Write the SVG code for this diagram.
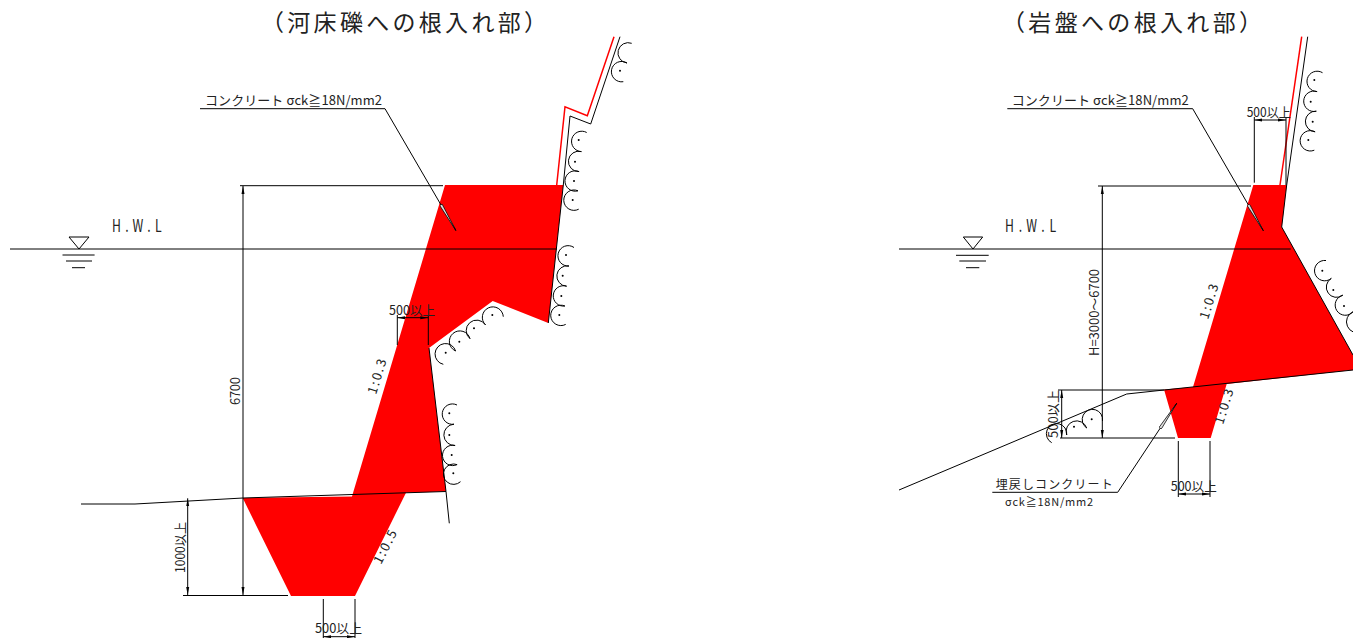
<svg xmlns="http://www.w3.org/2000/svg" width="1353" height="638" viewBox="0 0 1353 638">
<style>
text{font-family:"Noto Sans CJK JP","Liberation Sans",sans-serif;fill:#222}
.t{font-size:23px}
.d{font-size:13px}
.h{font-size:17px}
.l{fill:none;stroke:#000;stroke-width:1}
.r{fill:none;stroke:#f00;stroke-width:1.5}
.s{fill:none;stroke:#000;stroke-width:1}
.f{fill:#f00;stroke:none}
.a{fill:none;stroke:#000;stroke-width:1;marker-start:url(#ar);marker-end:url(#ar)}
.p{fill:#000}
</style>
<defs>
<marker id="ar" viewBox="0 0 8 4" refX="8" refY="2" markerWidth="8" markerHeight="4" markerUnits="userSpaceOnUse" orient="auto-start-reverse"><path d="M0,0.5L8,2L0,3.5Z" fill="#000"/></marker>
<marker id="lead" viewBox="0 0 30 4" refX="30" refY="2" markerWidth="30" markerHeight="4" markerUnits="userSpaceOnUse" orient="auto"><path d="M0,0.6L30,2L0,3.4Z" fill="#ddd" stroke="#000" stroke-width=".7"/></marker>
</defs>
<g id="left-section">
<text class="t" x="261" y="31" textLength="286" lengthAdjust="spacing">（河床礫への根入れ部）</text>
<path class="f" d="M445,185H563.3L548.3,323L492.7,301L429,348L446,491.5L406,492.7L355,596H291L242.7,498L352,496.5L352.7,494Z"/>
<path class="r" d="M556.7,185L565,106.7L587.3,115.7L614,36.7"/>
<path class="l" d="M620,36.7L590.7,124L570,116L563.3,185L548.3,323M429,348L446,491.5L449.3,523.3M81,504H135L243,498L446,491.5"/>
<path class="l" d="M10,249H557M240,185.7H443M183,595.5H288"/>
<path class="l" d="M69,237H89L79,249Z M62.5,255H94.6M66,261H92M72,267.7H85"/>
<text class="h" transform="translate(112,232) scale(.72,1)" textLength="69" lengthAdjust="spacing">H.W.L</text>
<text class="d" x="205" y="105" textLength="177" lengthAdjust="spacing">コンクリート σck≧18N/mm2</text>
<path class="l" d="M200,108.7H385L456,230.7" marker-end="url(#lead)"/>
<path class="a" d="M243,186V595"/>
<text class="d" transform="translate(240,405) rotate(-90)" textLength="28" lengthAdjust="spacing">6700</text>
<path class="a" d="M187.7,498.3V595"/>
<text class="d" transform="translate(185,573) rotate(-90)" textLength="51" lengthAdjust="spacingAndGlyphs">1000以上</text>
<path class="l" d="M397.3,315V345M428.3,315V345"/>
<path class="a" d="M397.3,317.7H428.3"/>
<text class="d" x="389" y="315" textLength="46" lengthAdjust="spacingAndGlyphs">500以上</text>
<path class="l" d="M323.3,599V638M355,599V638"/>
<path class="a" d="M323.3,636.7H355"/>
<text class="d" x="315" y="633" textLength="47" lengthAdjust="spacingAndGlyphs">500以上</text>
<text class="d" transform="translate(376,395) rotate(-73)" textLength="36" lengthAdjust="spacing">1:0.3</text>
<text class="d" transform="translate(381,565) rotate(-63)" textLength="36" lengthAdjust="spacing">1:0.5</text>
<g id="left-gravel">
<path class="s" d="M631.7,43.3A10.2,10.2 0 1 0 627,63A10.2,10.2 0 1 0 623.3,81.7"/>
<path class="s" d="M586.7,132.5A10.2,10.2 0 1 0 581.4,151.6A10.2,10.2 0 1 0 579.1,171.6A10.2,10.2 0 1 0 578,190.8A10.2,10.2 0 1 0 578.7,209.2"/>
<path class="s" d="M574,247.5A10.2,10.2 0 1 0 569,266A10.2,10.2 0 1 0 566.6,286.2A10.2,10.2 0 1 0 564.9,306A10.2,10.2 0 1 0 565.7,324.4"/>
<path class="s" d="M503.3,316.7A10.5,10.5 0 1 0 485.5,324.9A10.5,10.5 0 1 0 470,338.7A10.5,10.5 0 1 0 455.6,351A10.5,10.5 0 1 0 443.3,364.3"/>
<path class="s" d="M457,405A10.2,10.2 0 1 0 454,424.2A10.2,10.2 0 1 0 455.1,445.5A10.2,10.2 0 1 0 457.1,464.6A10.2,10.2 0 1 0 460.5,481.7"/>
<g class="p">
<circle cx="620" cy="70.7" r="1"/><circle cx="578.7" cy="140" r="1"/><circle cx="575" cy="161.7" r="1"/><circle cx="574" cy="181" r="1"/><circle cx="572.7" cy="200" r="1"/>
<circle cx="566" cy="255" r="1"/><circle cx="562.7" cy="275.7" r="1"/><circle cx="561.3" cy="296" r="1"/><circle cx="559.3" cy="315" r="1"/>
<circle cx="492.3" cy="315" r="1"/><circle cx="474" cy="328.3" r="1"/><circle cx="459.3" cy="341.7" r="1"/><circle cx="445.7" cy="352.7" r="1"/>
<circle cx="449.3" cy="413.3" r="1"/><circle cx="449.3" cy="435" r="1"/><circle cx="451.7" cy="455" r="1"/><circle cx="453.3" cy="473.3" r="1"/>
</g>
</g>
</g>
<g id="right-section">
<text class="t" x="1002" y="31" textLength="260" lengthAdjust="spacing">（岩盤への根入れ部）</text>
<path class="f" d="M1253.3,185H1286.7L1281.7,227L1353,355V370L1226.7,384L1210.7,438H1178L1164,389.5L1193,387Z"/>
<path class="r" d="M1301.7,36.7L1280,185"/>
<path class="l" d="M1307.7,36.7L1286.7,185L1281.7,227L1353,355"/>
<path class="l" d="M899,490L1126.7,394L1164,390L1353,370"/>
<path class="l" d="M899,249H1290.7M1098,186H1251M1060,438H1175M1058,390H1164"/>
<path class="l" d="M963.3,237H982.7L973,249Z M956,255.3H988.7M959.3,261H986M966,267.7H979.3"/>
<text class="h" transform="translate(1005,232) scale(.72,1)" textLength="71" lengthAdjust="spacing">H.W.L</text>
<text class="d" x="1011.7" y="105" textLength="177" lengthAdjust="spacing">コンクリート σck≧18N/mm2</text>
<path class="l" d="M1007.3,108.7H1192.7L1263.3,230.7" marker-end="url(#lead)"/>
<path class="l" d="M1254.3,117V182.7M1286,117V185"/>
<path class="a" d="M1254.3,120H1286"/>
<text class="d" x="1246.7" y="117" textLength="44" lengthAdjust="spacingAndGlyphs">500以上</text>
<path class="a" d="M1102.3,186V438"/>
<text class="d" transform="translate(1099,356) rotate(-90)" textLength="87" lengthAdjust="spacingAndGlyphs">H=3000～6700</text>
<path class="a" d="M1061.7,390V438"/>
<text class="d" transform="translate(1058,438) rotate(-90)" textLength="48" lengthAdjust="spacingAndGlyphs">500以上</text>
<path class="l" d="M1178.3,441V497M1210,441V497"/>
<path class="a" d="M1178.3,494H1210"/>
<text class="d" x="1170.7" y="490.7" textLength="46" lengthAdjust="spacingAndGlyphs">500以上</text>
<text style="font-size:12px" x="995.7" y="489" textLength="117" lengthAdjust="spacing">埋戻しコンクリート</text>
<text style="font-size:11px" x="1005" y="505.5" textLength="88" lengthAdjust="spacing">σck≧18N/mm2</text>
<path class="l" d="M992.3,492.3H1117.7L1176.7,403.3" marker-end="url(#lead)"/>
<text class="d" transform="translate(1208,320) rotate(-73)" textLength="36" lengthAdjust="spacing">1:0.3</text>
<text class="d" transform="translate(1223,425) rotate(-73)" textLength="36" lengthAdjust="spacing">1:0.3</text>
<g id="right-gravel">
<path class="s" d="M1322.5,72.7A10.2,10.2 0 1 0 1317.1,91.6A10.2,10.2 0 1 0 1316.3,111.2A10.2,10.2 0 1 0 1315.1,131.8A10.2,10.2 0 1 0 1314.3,150.2"/>
<path class="s" d="M1326,260.5A10.2,10.2 0 1 0 1331.3,278.4A10.2,10.2 0 1 0 1342.8,295.2A10.2,10.2 0 1 0 1353.2,311.6A10.2,10.2 0 1 0 1362,332"/>
<path class="s" d="M1102.5,421A10.2,10.2 0 1 0 1086.7,428A10.5,10.5 0 1 0 1066.7,435A10.2,10.2 0 1 0 1051.7,442.7"/>
<g class="p">
<circle cx="1314.3" cy="80" r="1"/><circle cx="1310.7" cy="101.7" r="1"/><circle cx="1312.7" cy="121.7" r="1"/><circle cx="1308.3" cy="140" r="1"/>
<circle cx="1322.3" cy="270.7" r="1"/><circle cx="1333.3" cy="290" r="1"/><circle cx="1344" cy="306" r="1"/>
<circle cx="1091.7" cy="419.3" r="1"/><circle cx="1074" cy="426.7" r="1"/>
</g>
</g>
</g>
</svg>
